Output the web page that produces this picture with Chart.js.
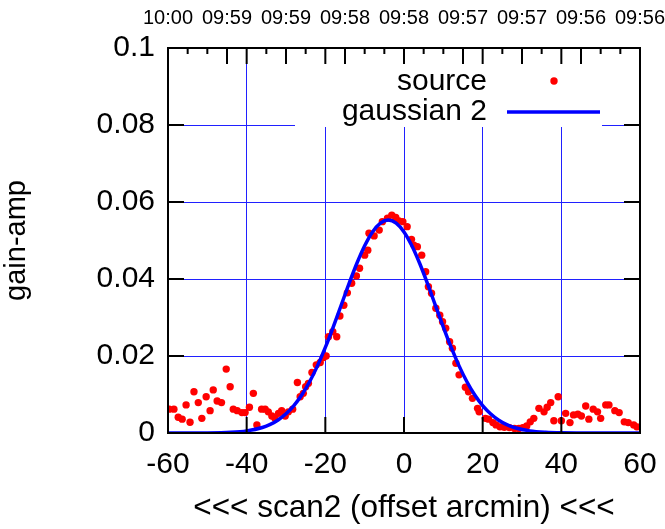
<!DOCTYPE html>
<html>
<head>
<meta charset="utf-8">
<script src="https://cdn.jsdelivr.net/npm/chart.js@4/dist/chart.umd.min.js"></script>
<style>
html,body{margin:0;padding:0;background:#fff;}
#wrap{width:665px;height:529px;position:relative;}
</style>
</head>
<body>
<div id="wrap"><canvas id="c"></canvas></div>
<script>
// ---- data ----
const srcX = [-59.7,-58.5,-57.4,-56.4,-55.4,-54.4,-53.4,-52.3,-51.4,-50.3,-49.3,-48.5,-47.5,-46.4,-45.2,-44.2,-43.4,-42.4,-41.2,-40.4,
  -39.3,-38.3,-37.4,-36.2,-35.3,-34.5,-33.6,-32.8,-31.9,-31.1,-30.2,-29.4,-28.3,-27.1,-26.4,-25.6,-25.0,-24.3,-23.4,-22.3,
  -21.3,-20.5,-19.8,-19.2,-18.1,-17.1,-16.3,-15.3,-14.4,-13.3,-12.1,-11.3,-10.0,-9.2,-8.9,-7.6,-6.3,-5.5,-4.2,-3.1,
  -2.1,-1.3,-0.3,0.8,1.9,2.5,3.4,4.5,5.5,6.2,7.0,8.1,9.1,9.8,10.6,11.6,12.3,13.2,14.0,15.6,
  16.4,17.4,18.7,19.1,20.7,21.5,22.6,23.4,24.4,25.5,26.8,28.1,29.2,30.2,31.2,32.1,33.0,34.3,35.6,36.4,
  37.3,38.1,39.2,40.0,41.1,42.2,43.1,44.2,45.1,46.2,47.0,48.1,49.2,50.0,51.3,52.1,53.6,54.7,56.0,57.0,58.4,59.2];
const srcY = [0.0062,0.0062,0.0041,0.0036,0.0073,0.0028,0.0107,0.0079,0.0038,0.0094,0.0058,0.0112,0.0083,0.0079,0.0166,0.0120,0.0062,0.0058,0.0053,0.0053,
  0.0067,0.0103,0.0021,0.0062,0.0062,0.0055,0.0044,0.0038,0.0051,0.0058,0.0044,0.0055,0.0062,0.0131,0.0094,0.0103,0.0120,0.0129,0.0157,0.0177,
  0.0183,0.0196,0.0200,0.0250,0.0263,0.0250,0.0304,0.0332,0.0364,0.0389,0.0408,0.0428,0.0462,0.0475,0.0519,0.0512,0.0527,0.0549,0.0558,0.0566,
  0.0560,0.0551,0.0549,0.0536,0.0503,0.0488,0.0484,0.0462,0.0419,0.0380,0.0363,0.0324,0.0306,0.0289,0.0272,0.0237,0.0220,0.0181,0.0151,0.0119,
  0.0107,0.0090,0.0064,0.0055,0.0038,0.0036,0.0027,0.0021,0.0016,0.0015,0.0014,0.0012,0.0012,0.0014,0.0018,0.0029,0.0038,0.0064,0.0055,0.0067,
  0.0079,0.0032,0.0094,0.0032,0.0051,0.0027,0.0047,0.0049,0.0044,0.0070,0.0036,0.0062,0.0055,0.0038,0.0073,0.0073,0.0058,0.0053,0.0029,0.0027,0.0021,0.0016];

const fitX = [-60,-50,-44,-40,-36,-34,-32,-30,-28,-26,-24,-22,-20,-18,-16,-14,-12,-10,-8,-6,-4,
  -2,0,2,4,6,8,10,12,14,16,18,20,22,24,26,28,32,36,40,50,60];
const fitY = [0.0,0.00003,0.000185,0.00055,0.00144,0.00224,0.00339,0.00498,0.00711,0.00987,0.01331,0.01744,0.02222,0.02752,0.03311,0.03874,0.04403,0.04865,0.05224,0.05452,0.0553,
  0.05452,0.05224,0.04865,0.04403,0.03874,0.03311,0.02752,0.02222,0.01744,0.01331,0.00987,0.00711,0.00498,0.00339,0.00224,0.00144,0.00055,0.000185,0.000056,0.000003,0.0];

const xTicks = [-60,-40,-20,0,20,40,60];
const yTicks = [0,0.02,0.04,0.06,0.08,0.1];
const timeTickPos = [-60,-45,-30,-15,0,15,30,45,60];
const timeLabels = ['10:00','09:59','09:59','09:58','09:58','09:57','09:57','09:56','09:56'];

const FONT = "'Liberation Sans', Arial, sans-serif";

const framePlugin = {
  id: 'frame',
  beforeDatasetsDraw(chart) {
    const ctx = chart.ctx;
    ctx.save();
    ctx.fillStyle = '#fff';
    ctx.fillRect(295, 50, 307, 77);
    ctx.restore();
  },
  afterDatasetsDraw(chart) {
    const ctx = chart.ctx;
    const a = chart.chartArea;
    const xs = chart.scales.x, ys = chart.scales.y;
    ctx.save();
    ctx.strokeStyle = '#000';
    ctx.lineWidth = 2;
    ctx.beginPath();
    const L = 16, S = 6;
    xTicks.slice(1, -1).forEach(v => {
      const p = xs.getPixelForValue(v);
      ctx.moveTo(p, a.bottom); ctx.lineTo(p, a.bottom - L);
      ctx.moveTo(p, a.top); ctx.lineTo(p, a.top + L);
    });
    timeTickPos.slice(1, -1).forEach(v => {
      const p = xs.getPixelForValue(v);
      ctx.moveTo(p, a.top); ctx.lineTo(p, a.top + L);
    });
    for (let v = -55; v < 60; v += 5) {
      if (v % 20 === 0 || v % 15 === 0) continue;
      const p = xs.getPixelForValue(v);
      ctx.moveTo(p, a.top); ctx.lineTo(p, a.top + S);
    }
    yTicks.slice(1, -1).forEach(v => {
      const p = ys.getPixelForValue(v);
      ctx.moveTo(a.left, p); ctx.lineTo(a.left + L, p);
      ctx.moveTo(a.right, p); ctx.lineTo(a.right - L, p);
    });
    ctx.stroke();
    ctx.strokeRect(a.left, a.top, a.right - a.left, a.bottom - a.top);
    // legend
    ctx.fillStyle = '#000';
    ctx.font = '30px ' + FONT;
    ctx.textAlign = 'right';
    ctx.textBaseline = 'middle';
    ctx.fillText('source', 487, 82);
    ctx.fillText('gaussian 2', 487, 112);
    ctx.fillStyle = '#ff0000';
    ctx.beginPath();
    ctx.arc(554, 81, 3.7, 0, Math.PI * 2);
    ctx.fill();
    ctx.strokeStyle = '#0000ff';
    ctx.lineWidth = 3.5;
    ctx.beginPath();
    ctx.moveTo(507, 112); ctx.lineTo(600, 112);
    ctx.stroke();
    ctx.restore();
  }
};

const noPad = s => { s.paddingLeft = 0; s.paddingRight = 0; };

new Chart(document.getElementById('c'), {
  type: 'scatter',
  data: {
    datasets: [
      {
        label: 'gaussian 2',
        data: fitX.map((x, i) => ({x, y: fitY[i]})),
        showLine: true,
        borderColor: '#0000ff',
        borderWidth: 3.5,
        pointRadius: 0,
        cubicInterpolationMode: 'monotone',
        order: 0
      },
      {
        label: 'source',
        data: srcX.map((x, i) => ({x, y: srcY[i]})),
        showLine: false,
        pointRadius: 3.7,
        pointBackgroundColor: '#ff0000',
        pointBorderWidth: 0,
        borderColor: '#ff0000',
        order: 1
      }
    ]
  },
  options: {
    responsive: true,
    maintainAspectRatio: false,
    animation: false,
    layout: { padding: { left: 0, right: 25, top: 0, bottom: 0 } },
    plugins: { legend: { display: false }, tooltip: { enabled: false } },
    scales: {
      x: {
        type: 'linear', position: 'bottom', min: -60, max: 60,
        afterBuildTicks: s => { s.ticks = xTicks.map(v => ({value: v})); },
        afterFit: s => { s.height = 96; noPad(s); },
        grid: {
          drawTicks: false,
          color: ctx => (ctx.tick && (ctx.tick.value === -60 || ctx.tick.value === 60)) ? 'rgba(0,0,0,0)' : '#2020ff',
          lineWidth: 1
        },
        border: { display: false },
        ticks: { color: '#000', font: { family: FONT, size: 30 }, padding: 14, maxRotation: 0, autoSkip: false,
          callback: v => String(v) },
        title: { display: true, text: '<<< scan2 (offset arcmin) <<<', color: '#000',
          font: { family: FONT, size: 31.5 }, padding: { top: 0, bottom: 2 } }
      },
      x2: {
        type: 'linear', position: 'top', min: -60, max: 60,
        afterBuildTicks: s => { s.ticks = timeTickPos.map(v => ({value: v})); },
        afterFit: s => { s.height = 48; noPad(s); },
        grid: { display: false, drawTicks: false },
        border: { display: false },
        ticks: { color: '#000', font: { family: FONT, size: 20 }, padding: 18, maxRotation: 0, autoSkip: false,
          callback: (v, i) => timeLabels[i] }
      },
      y: {
        type: 'linear', position: 'left', min: 0, max: 0.1,
        afterBuildTicks: s => { s.ticks = yTicks.map(v => ({value: v})); },
        afterFit: s => { s.width = 168; },
        grid: {
          drawTicks: false,
          color: ctx => (ctx.tick && (ctx.tick.value === 0 || ctx.tick.value === 0.1)) ? 'rgba(0,0,0,0)' : '#2020ff',
          lineWidth: 1
        },
        border: { display: false },
        ticks: { color: '#000', font: { family: FONT, size: 30 }, padding: 13, autoSkip: false,
          callback: v => String(+v.toFixed(2)) },
        title: { display: true, text: 'gain-amp', color: '#000',
          font: { family: FONT, size: 29 }, padding: { top: 0, bottom: 0 } }
      }
    }
  },
  plugins: [framePlugin]
});
</script>
</body>
</html>
